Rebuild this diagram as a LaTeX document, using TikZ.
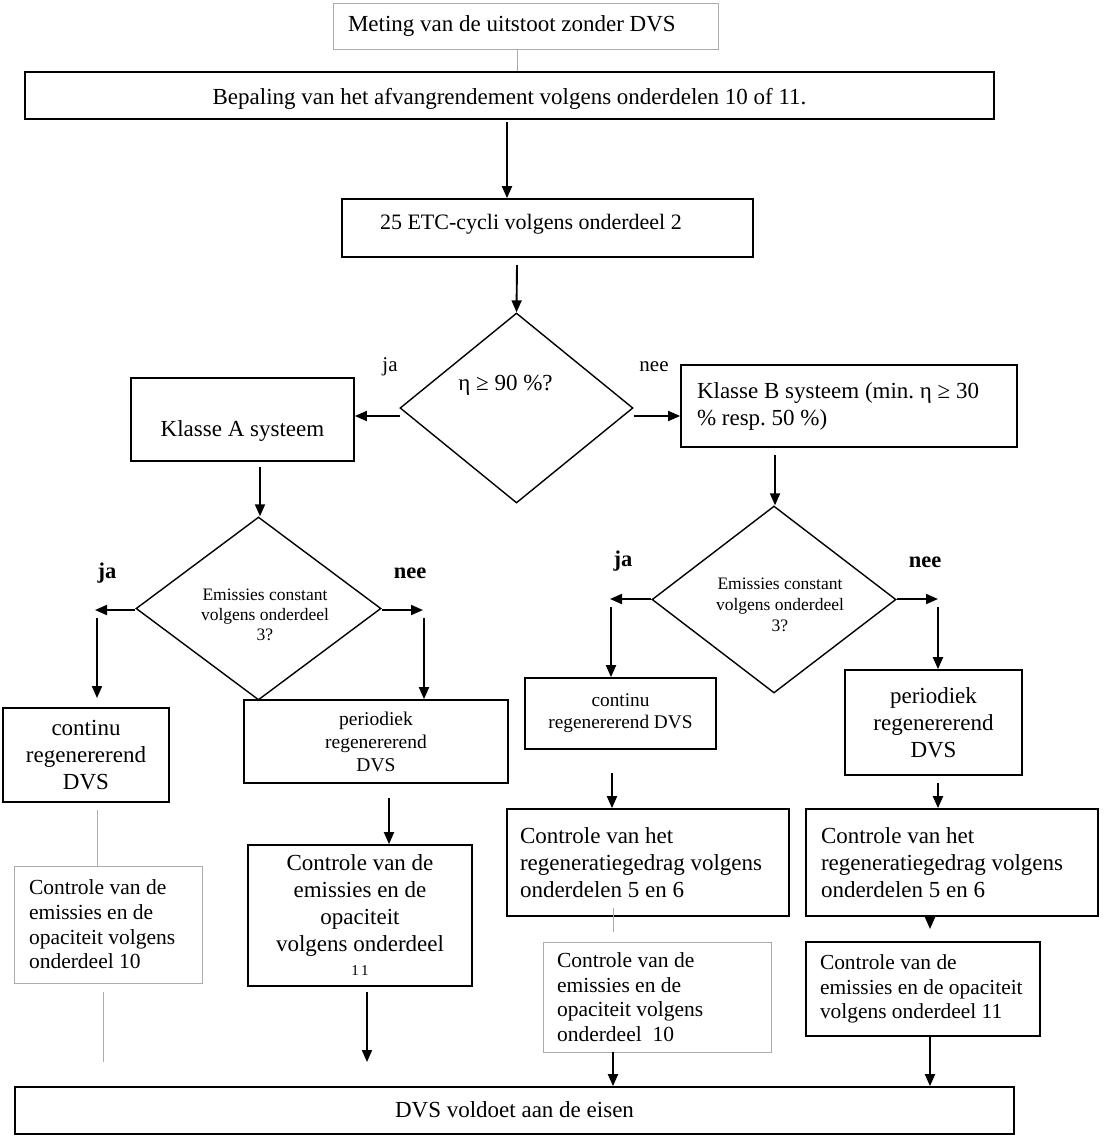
\documentclass[tikz,border=0pt]{standalone}
\usepackage{fontspec}
\setmainfont{Liberation Serif}
\frenchspacing
\usetikzlibrary{arrows.meta,shapes.geometric}

\tikzset{
  box/.style={draw, rectangle, line width=1.7pt, inner sep=0pt, font=\fontsize{23}{27}\selectfont},
  greybox/.style={draw=black!33, rectangle, line width=1pt, inner ysep=0pt, align=flush left, font=\fontsize{21.5}{24.7}\selectfont},
  question/.style={draw, diamond, line width=1.4pt, inner sep=0pt},
  arr/.style={-{Triangle[length=12pt,width=10pt]}, line width=1.9pt},
  greyline/.style={draw=black!33, line width=1pt},
  answer/.style={font=\fontsize{21}{21}\selectfont},
  banswer/.style={font=\bfseries\fontsize{22.5}{22.5}\selectfont},
}

\begin{document}
\begin{tikzpicture}[x=1pt, y=-1pt]
    \useasboundingbox (0,0) rectangle (1106,1136);

    % top of the chart
    \node[box, draw=black!33, line width=1pt, align=flush left, text width=355pt, inner xsep=15pt, text height=28pt, text depth=18pt] (meting) at (525.5,26) {Meting van de uitstoot zonder DVS};
    \node[box, minimum width=969pt, text height=32pt, text depth=15pt] (bepaling) at (509.5,95.5) {Bepaling van het afvangrendement volgens onderdelen 10 of 11.};
    \node[box, align=flush left, text width=335pt, inner xsep=38pt, text height=30pt, text depth=28pt, font=\fontsize{22}{26}\selectfont] (etc) at (547.5,228) {25 ETC-cycli volgens onderdeel 2};
    \node[question, minimum width=233pt, minimum height=190pt,
          label={[xshift=-11pt, yshift=23pt, font=\fontsize{23}{27}\selectfont]center:{η ≥ 90 \%?}}] (q1) at (516.5,408) {};
    \node[answer] (ja1) at (390,367) {ja};
    \node[answer] (nee1) at (654,367) {nee};
    \node[box, minimum width=223pt, text height=58pt, text depth=25pt] (klasseA) at (242.5,419.5) {Klasse A systeem};
    \node[box, align=flush left, text width=304pt, inner xsep=16pt, minimum height=82pt] (klasseB) at (849,406) {Klasse B systeem (min. η ≥ 30\\\% resp. 50 \%)};

    % class A branch
    \node[question, minimum width=245pt, minimum height=183pt,
          label={[xshift=6.5pt, yshift=-6.5pt, align=center, font=\fontsize{17.5}{20}\selectfont]center:{Emissies constant\\volgens onderdeel\\3?}}] (qA) at (258.5,608.5) {};
    \node[banswer] (jaA) at (107,573) {ja};
    \node[banswer] (neeA) at (410,573) {nee};
    \node[box, align=center, minimum width=166pt, minimum height=94pt] (contA) at (86,755) {continu\\regenererend\\DVS};
    \node[box, align=center, minimum width=264pt, minimum height=83pt, font=\fontsize{19.5}{23}\selectfont] (perA) at (376,741.5) {periodiek\\regenererend\\DVS};
    \node[greybox, text width=158pt, inner xsep=15pt, minimum height=117pt] (emisA) at (108,924.5) {Controle van de\\emissies en de\\opaciteit volgens\\onderdeel 10};
    \node[box, align=center, minimum width=224pt, minimum height=141pt] (cemA) at (360,915.5) {Controle van de\\emissies en de\\opaciteit\\volgens onderdeel\\[-3pt]{\fontsize{15}{15}\selectfont 1\,1}};

    % class B branch
    \node[question, minimum width=244pt, minimum height=187pt,
          label={[xshift=6pt, yshift=-5.5pt, align=center, font=\fontsize{17.5}{21}\selectfont]center:{Emissies constant\\volgens onderdeel\\3?}}] (qB) at (774,599.5) {};
    \node[banswer] (jaB) at (623,561) {ja};
    \node[banswer] (neeB) at (925,562) {nee};
    \node[box, align=center, minimum width=191pt, minimum height=71pt, font=\fontsize{19.3}{22}\selectfont] (contB) at (620.5,713.5) {continu\\regenererend DVS};
    \node[box, align=center, minimum width=177pt, minimum height=105pt] (perB) at (933.5,722.5) {periodiek\\regenererend\\DVS};
    \node[box, align=flush left, text width=256pt, inner xsep=13pt, minimum height=107pt] (regenB1) at (648,862.5) {Controle van het\\\mbox{regeneratiegedrag volgens}\\onderdelen 5 en 6};
    \node[box, align=flush left, text width=262pt, inner xsep=15pt, minimum height=107pt] (regenB2) at (952,862.5) {Controle van het\\\mbox{regeneratiegedrag volgens}\\onderdelen 5 en 6};
    \node[greybox, text width=200pt, inner xsep=14pt, minimum height=110pt] (emisB10) at (657,997) {Controle van de\\emissies en de\\opaciteit volgens\\onderdeel~ 10};
    \node[box, align=flush left, text width=206pt, inner xsep=14pt, minimum height=94pt, font=\fontsize{21.4}{24.5}\selectfont] (emisB11) at (923,989) {Controle van de\\\mbox{emissies en de opaciteit}\\volgens onderdeel 11};

    % end
    \node[box, minimum width=999pt, text height=30pt, text depth=17pt] (dvs) at (514.5,1110.5) {DVS voldoet aan de eisen};

    % free ends of the connectors
    \coordinate (g1) at (517,49);
    \coordinate (s1) at (507,122);
    \coordinate (s2) at (517,265);
    \coordinate (s3) at (400,416);
    \coordinate (s4) at (634,416);
    \coordinate (s5) at (260,467);
    \coordinate (s6) at (775,455);
    \coordinate (j1) at (95,610);
    \coordinate (j2) at (97,618);
    \coordinate (j3) at (97,698);
    \coordinate (n1) at (423,610);
    \coordinate (n2) at (424,618);
    \coordinate (j4) at (610,599);
    \coordinate (j5) at (611,607);
    \coordinate (n3) at (938,599);
    \coordinate (n4) at (938,607);
    \coordinate (s7) at (612,773);
    \coordinate (s8) at (938,783);
    \coordinate (s9) at (389,798);
    \coordinate (g2) at (97,810);
    \coordinate (g3) at (613,908);
    \coordinate (g4) at (613,932);
    \coordinate (s10) at (930,929);
    \coordinate (s11) at (367,992);
    \coordinate (s12) at (367,1062);
    \coordinate (g5) at (103,992);
    \coordinate (g6) at (103,1062);
    \coordinate (s13) at (613,1052);
    \coordinate (s14) at (930,1036);

    \draw[greyline] (g1) -- (g1 |- bepaling.north);
    \draw[arr] (s1) -- (s1 |- etc.north);
    \draw[arr] (s2) -- (q1.north);
    \draw[arr] (s3) -- (s3 -| klasseA.east);
    \draw[arr] (s4) -- (s4 -| klasseB.west);
    \draw[arr] (s5) -- (s5 |- qA.north);
    \draw[arr] (s6) -- (s6 |- qB.north);
    \draw[arr] (qA.west |- j1) -- (j1);
    \draw[arr] (j2) -- (j3);
    \draw[arr] (qA.east |- n1) -- (n1);
    \draw[arr] (n2) -- (n2 |- perA.north);
    \draw[arr] (qB.west |- j4) -- (j4);
    \draw[arr] (j5) -- (j5 |- contB.north);
    \draw[arr] (qB.east |- n3) -- (n3);
    \draw[arr] (n4) -- (n4 |- perB.north);
    \draw[arr] (s7) -- (s7 |- regenB1.north);
    \draw[arr] (s8) -- (s8 |- regenB2.north);
    \draw[arr] (s9) -- (s9 |- cemA.north);
    \draw[greyline] (g2) -- (g2 |- emisA.north);
    \draw[greyline] (g3) -- (g4);
    \draw[arr] (regenB2.south -| s10) -- (s10);
    \draw[arr] (s11) -- (s12);
    \draw[greyline] (g5) -- (g6);
    \draw[arr] (s13) -- (s13 |- dvs.north);
    \draw[arr] (s14) -- (s14 |- dvs.north);
\end{tikzpicture}
\end{document}
